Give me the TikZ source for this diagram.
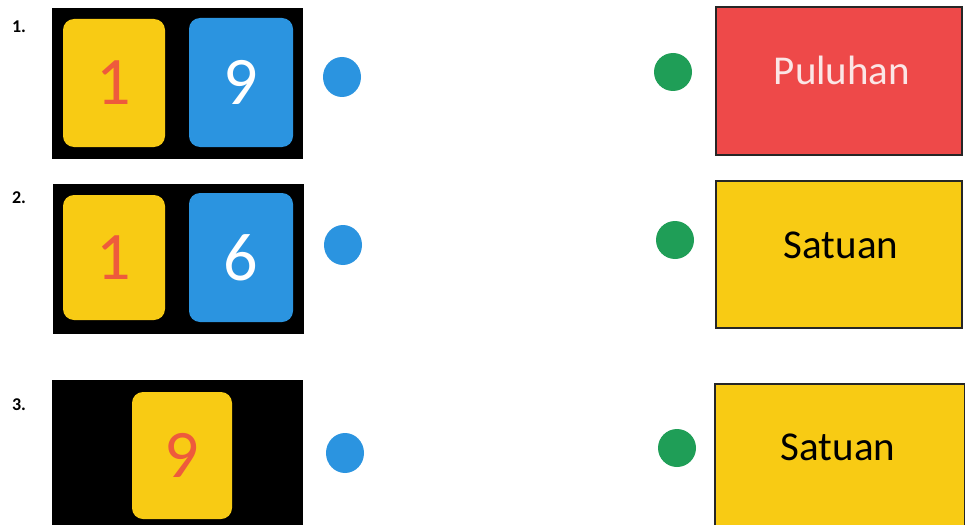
\documentclass[tikz,border=0pt]{standalone}
\usepackage{fontspec}
\usetikzlibrary{shapes.geometric}
\setmainfont{Carlito}
\definecolor{tileyellow}{HTML}{F8CB14}
\definecolor{tileblue}{HTML}{2B94E0}
\definecolor{digitred}{HTML}{EE5B3C}
\definecolor{dotgreen}{HTML}{1F9E57}
\definecolor{boxred}{HTML}{EE4949}
\definecolor{pinkwhite}{HTML}{FBE6E6}
\begin{document}
\begin{tikzpicture}[x=1pt,y=-1pt,
  frame/.style={fill=black,draw=none},
  tile/.style={rounded corners=11pt,draw=none,inner sep=0pt,font=\fontsize{68}{68}\selectfont},
  ytile/.style={tile,fill=tileyellow,text=digitred},
  btile/.style={tile,fill=tileblue,text=white},
  bdot/.style={ellipse,fill=tileblue,minimum width=38pt,minimum height=40pt,inner sep=0pt},
  gdot/.style={circle,fill=dotgreen,minimum size=38pt,inner sep=0pt},
  ansbox/.style={draw=black!85,line width=1.6pt,inner sep=0pt},
  anstext/.style={inner sep=0pt,font=\fontsize{41}{41}\selectfont},
  numlabel/.style={font=\bfseries\fontsize{18}{18}\selectfont,inner sep=0pt}]
\useasboundingbox (0,0) rectangle (965,524);
\fill[white] (0,0) rectangle (965,524);
\begin{scope}
\clip (0,0) rectangle (965,524);
% row 1
\node[numlabel] (l1) at (19,27) {1.};
\node[frame,minimum width=251pt,minimum height=151pt,inner sep=0pt] (f1) at (177.5,83.5) {};
\node[ytile,minimum width=102pt,minimum height=128pt] (y1) at (114,83) {1};
\node[btile,minimum width=104pt,minimum height=129pt] (b1) at (241,82.5) {9};
\node[bdot] (d1) at (342,77) {};
% row 2
\node[numlabel] (l2) at (19,198) {2.};
\node[frame,minimum width=251pt,minimum height=150pt,inner sep=0pt] (f2) at (178.5,259) {};
\node[ytile,minimum width=102pt,minimum height=125pt] (y2) at (114,257.5) {1};
\node[btile,minimum width=104pt,minimum height=129pt] (b2) at (241,257.5) {6};
\node[bdot] (d2) at (343,245) {};
% row 3
\node[numlabel] (l3) at (19,405) {3.};
\node[frame,minimum width=251pt,minimum height=160pt,inner sep=0pt] (f3) at (177.5,460) {};
\node[ytile,minimum width=100pt,minimum height=127pt] (y3) at (182,455.5) {9};
\node[bdot] (d3) at (345,453) {};
% right column
\node[gdot] (g1) at (673,72) {};
\node[ansbox,fill=boxred,minimum width=246pt,minimum height=148pt] (r1) at (839,81) {};
\node[anstext,text=pinkwhite] (t1) at (842,70) {Puluhan};
\node[gdot] (g2) at (675,240) {};
\node[ansbox,fill=tileyellow,minimum width=246pt,minimum height=147pt] (r2) at (839,254.5) {};
\node[anstext] (t2) at (841,245) {Satuan};
\node[gdot] (g3) at (677,448) {};
\node[ansbox,fill=tileyellow,minimum width=250pt,minimum height=160pt,anchor=north west] (r3) at (714,383) {};
\node[anstext] (t3) at (838,447) {Satuan};
\end{scope}
\end{tikzpicture}
\end{document}
